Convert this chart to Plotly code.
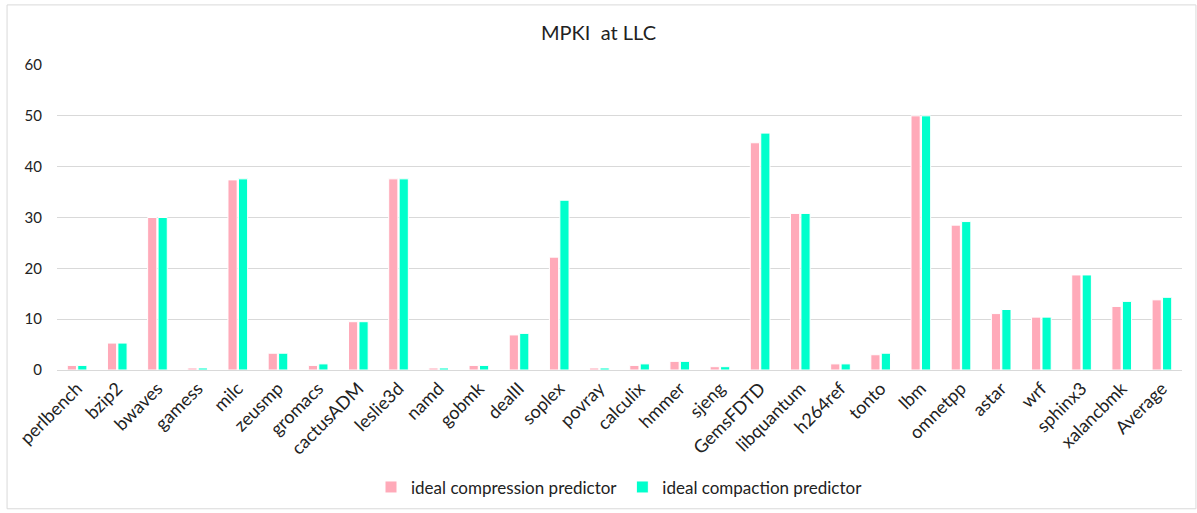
import plotly.graph_objects as go

categories = ["perlbench", "bzip2", "bwaves", "gamess", "milc", "zeusmp", "gromacs",
              "cactusADM", "leslie3d", "namd", "gobmk", "dealII", "soplex", "povray",
              "calculix", "hmmer", "sjeng", "GemsFDTD", "libquantum", "h264ref", "tonto",
              "lbm", "omnetpp", "astar", "wrf", "sphinx3", "xalancbmk", "Average"]

compression = [0.9, 5.3, 30.0, 0.4, 37.4, 3.3, 0.9, 9.5, 37.6, 0.4, 0.9, 6.9, 22.2, 0.4,
               0.9, 1.7, 0.65, 44.7, 30.8, 1.2, 3.0, 50.0, 28.5, 11.1, 10.4, 18.7, 12.5, 13.8]
compaction = [0.9, 5.3, 30.0, 0.4, 37.6, 3.3, 1.2, 9.5, 37.6, 0.4, 0.9, 7.2, 33.4, 0.4,
              1.2, 1.7, 0.65, 46.6, 30.8, 1.2, 3.3, 50.0, 29.2, 11.9, 10.4, 18.7, 13.5, 14.3]

y_ticks = [0, 10, 20, 30, 40, 50, 60]

font = "Lato, 'Open Sans', sans-serif"

fig = go.Figure()
fig.add_trace(go.Bar(x=categories, y=compression, name="ideal compression predictor",
                     marker=dict(color="#FFAAB9", line=dict(color="white", width=1))))
fig.add_trace(go.Bar(x=categories, y=compaction, name="ideal compaction predictor",
                     marker=dict(color="#00FFCC", line=dict(color="white", width=1))))

fig.update_layout(
    width=1197, height=513,
    margin=dict(l=57, r=15, t=65, b=143, autoexpand=False),
    paper_bgcolor="white", plot_bgcolor="white",
    barmode="group", bargap=0.48, bargroupgap=0.12,
    title=dict(text="MPKI  at LLC", x=0.5, xanchor="center", y=0.935, yanchor="middle",
               font=dict(family=font, size=20, color="#222222")),
    font=dict(family=font, color="#222222"),
    legend=dict(orientation="h", x=0.5, xanchor="center", y=-0.385, yanchor="middle",
                font=dict(size=17, color="#222222"), itemwidth=30, traceorder="normal"),
    xaxis=dict(tickangle=-45, tickfont=dict(size=18), showgrid=False, showline=True,
               linecolor="#d9d9d9", linewidth=1, ticks="", automargin=False,
               ticklabelstandoff=0),
    yaxis=dict(range=[0, 60], tickvals=y_ticks, showgrid=True, gridcolor="#d9d9d9",
               gridwidth=1, zeroline=False, tickfont=dict(size=15), ticks="",
               ticklabelstandoff=14, automargin=False),
    shapes=[dict(type="rect", xref="paper", yref="paper", x0=-0.0444, x1=1.0124,
                 y0=-0.455, y1=1.197, line=dict(color="#d9d9d9", width=1))],
)

fig.write_html("out.html", config={"displayModeBar": False},
               post_script="document.body.style.margin='0';")
